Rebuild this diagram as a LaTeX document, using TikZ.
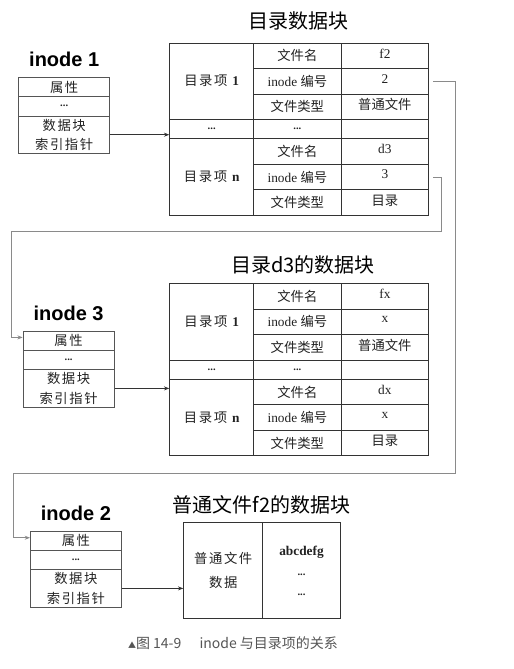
\documentclass[tikz,border=0pt]{standalone}
\usepackage{fontspec}
\setmainfont{Liberation Serif}
\newfontfamily\cjk{Noto Sans CJK SC}
\newfontfamily\cjkls[LetterSpace=12]{Noto Sans CJK SC}
\newfontfamily\hsans{Liberation Sans}
\usetikzlibrary{arrows.meta}
\definecolor{tabline}{HTML}{333333}
\definecolor{boxline}{HTML}{555555}
\definecolor{connline}{HTML}{8A8A8A}
\definecolor{txt}{HTML}{222222}
\definecolor{captxt}{HTML}{555555}
\tikzset{
  sz/.style 2 args={minimum width=#1*0.75pt, minimum height=#2*0.75pt},
  cell/.style={draw=tabline, line width=0.6pt, inner sep=0pt, anchor=north west,
    text=txt, font=\fontsize{10}{12}\selectfont},
  vcell/.style={cell, text depth=3.5pt},
  ibox/.style={draw=boxline, line width=0.6pt, inner sep=0pt, anchor=north west,
    text=txt, font=\fontsize{10}{14.5}\selectfont},
  ititle/.style={font=\hsans\bfseries\fontsize{15}{18}\selectfont, text=black, inner sep=0pt},
  ttitle/.style={font=\cjk\fontsize{15}{18}\selectfont, text=black, inner sep=0pt},
  conn/.style={draw=connline, line width=0.6pt, -{Stealth[length=4pt,width=3pt]}},
  ptr/.style={draw=tabline, line width=0.6pt, -{Stealth[length=4pt,width=3pt]}},
}
\newcommand\tdots{{\bfseries\footnotesize ...}}
\newcommand\dirtab[8]{%
  \node[cell,sz={84}{76.2}] (#1e1) at (169.3,#2) {{\cjkls 目录项} \textbf{1}};
  \node[cell,sz={87.4}{25.4}] (#1a1) at (253.3,#2) {\cjk 文件名};
  \node[vcell,sz={87.6}{25.4}] (#1b1) at (340.7,#2) {#3};
  \node[cell,sz={87.4}{25.4}] (#1a2) at (253.3,#2+25.4) {inode {\cjk 编号}};
  \node[vcell,sz={87.6}{25.4}] (#1b2) at (340.7,#2+25.4) {#4};
  \node[cell,sz={87.4}{25.4}] (#1a3) at (253.3,#2+50.8) {\cjk 文件类型};
  \node[vcell,sz={87.6}{25.4}] (#1b3) at (340.7,#2+50.8) {#5};
  \node[cell,sz={84}{19.5}] (#1d1) at (169.3,#2+76.2) {\tdots};
  \node[cell,sz={87.4}{19.5}] (#1d2) at (253.3,#2+76.2) {\tdots};
  \node[cell,sz={87.6}{19.5}] (#1d3) at (340.7,#2+76.2) {};
  \node[cell,sz={84}{76.2}] (#1en) at (169.3,#2+95.7) {{\cjkls 目录项} \textbf{n}};
  \node[cell,sz={87.4}{25.4}] (#1a4) at (253.3,#2+95.7) {\cjk 文件名};
  \node[vcell,sz={87.6}{25.4}] (#1b4) at (340.7,#2+95.7) {#6};
  \node[cell,sz={87.4}{25.4}] (#1a5) at (253.3,#2+121.1) {inode {\cjk 编号}};
  \node[vcell,sz={87.6}{25.4}] (#1b5) at (340.7,#2+121.1) {#7};
  \node[cell,sz={87.4}{25.4}] (#1a6) at (253.3,#2+146.5) {\cjk 文件类型};
  \node[vcell,sz={87.6}{25.4}] (#1b6) at (340.7,#2+146.5) {#8};
}
\newcommand\inodebox[4]{%
  \node[ibox,sz={91}{18.7}] (#1a) at (#2,#3) {\cjkls 属性};
  \node[ibox,sz={91}{19.5}] (#1b) at (#2,#3+18.7) {\tdots};
  \node[ibox,sz={91}{37.6},align=center,font=\cjkls\fontsize{10}{14.5}\selectfont] (#1p) at (#2,#3+38.2) {数据块\\索引指针};
  \node[ititle] (#1t) at ([yshift=13.5pt]#1a.north) {#4};
}
\begin{document}
\begin{tikzpicture}[x=0.75pt,y=-0.75pt]
\useasboundingbox[fill=white] (0,0) rectangle (514,669);

% titles
\node[ttitle] (ti1) at (298,20.7) {目录数据块};
\node[ttitle] (ti2) at (303,265) {目录d3的数据块};
\node[ttitle] (ti3) at (261.7,505) {普通文件f2的数据块};

% directory tables
\dirtab{t1}{42.7}{f2}{2}{\cjk 普通文件}{d3}{3}{\cjk 目录}
\dirtab{t2}{283.3}{fx}{x}{\cjk 普通文件}{dx}{x}{\cjk 目录}

% inodes
\inodebox{ia}{18.3}{77.3}{inode 1}
\inodebox{ic}{22.7}{331}{inode 3}
\inodebox{ib}{30}{531}{inode 2}

% file data block
\node[cell,sz={79}{96.6},align=center,font=\cjkls\fontsize{10}{18}\selectfont] (fd1) at (183.3,521.7) {普通文件\\数据};
\node[cell,sz={77.7}{96.6},align=center,font=\fontsize{10}{14.5}\selectfont] (fd2) at (262.3,521.7) {\textbf{abcdefg}\\[1pt]\tdots\\\tdots};

% pointers from inodes to data blocks
\draw[ptr] (iap.east) -- (iap.east -| t1e1.west);
\draw[ptr] (icp.east) -- (icp.east -| t2en.west);
\draw[ptr] (ibp.east) -- (ibp.east -| fd1.west);

% connectors from inode numbers to inodes
\coordinate (ra) at (441.7,231.7);
\coordinate (la) at (11.7,231.7);
\coordinate (rb) at (455,473.3);
\coordinate (lb) at (13.3,473.3);
\draw[conn] ([xshift=3pt]t1b5.east) -| (ra) -- (la) |- ([yshift=2.5pt]ica.west);
\draw[conn] ([xshift=3pt]t1b2.east) -| (rb) -- (lb) |- ([yshift=2.25pt]iba.west);

% caption
\node[font=\cjk\fontsize{10.5}{12}\selectfont, text=captxt, inner sep=0pt] (cap) at (233,642.7)
  {{\fontsize{6}{8}\selectfont ▲}图 14-9\hspace{1.3em}inode 与目录项的关系};
\end{tikzpicture}
\end{document}
